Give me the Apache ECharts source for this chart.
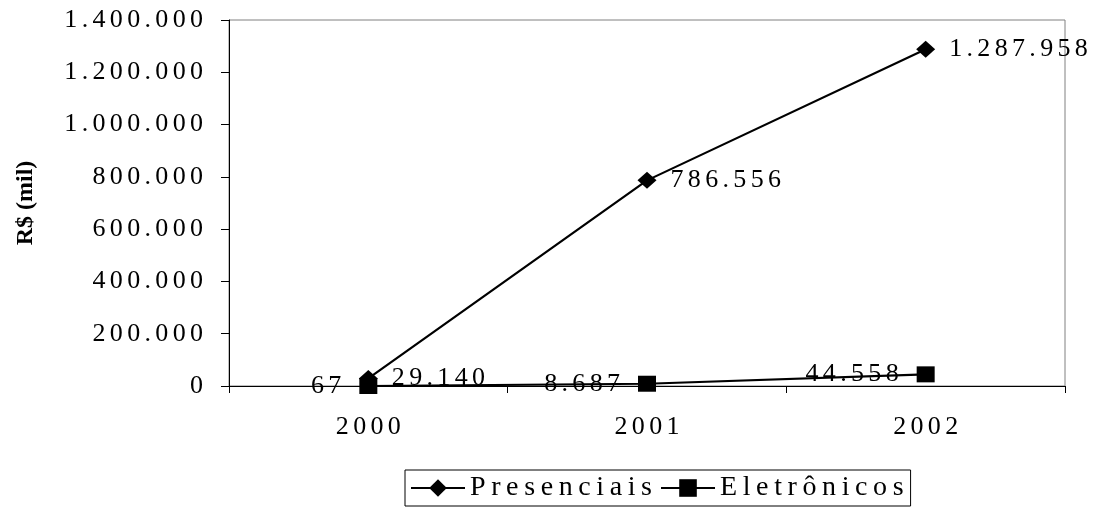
<!DOCTYPE html>
<html>
<head>
<meta charset="utf-8">
<script src="https://cdn.jsdelivr.net/npm/echarts@6/dist/echarts.min.js"></script>
<style>
html,body{margin:0;padding:0;background:#fff;}
#chart{width:1095px;height:513px;}
</style>
</head>
<body>
<div id="chart"></div>
<script>
const categories = ['2000', '2001', '2002'];
const presenciais = [29140, 786556, 1287958];
const eletronicos = [67, 8687, 44558];
const seriesNames = ['Presenciais', 'Eletrônicos'];
const yAxisName = 'R$ (mil)';
const yMin = 0, yMax = 1400000, yStep = 200000;

const FONT = '"Liberation Serif", "Times New Roman", serif';
const SP = '\u2006';
const SP_TEXT = '\u2009';
function thousands(n) {
  return String(n).replace(/\B(?=(\d{3})+(?!\d))/g, '.');
}
function spaced(s, sp) {
  return String(s).split('').join(sp || SP);
}

const chart = echarts.init(document.getElementById('chart'), null, {renderer: 'canvas'});
chart.setOption({
  backgroundColor: '#ffffff',
  animation: false,
  grid: {
    left: 229, right: 30, top: 20, bottom: 127,
    show: true, borderColor: '#808080', borderWidth: 1, backgroundColor: 'transparent'
  },
  legend: {
    left: 405, top: 470,
    padding: [4, 7, 4, 5],
    borderColor: '#000', borderWidth: 1,
    itemWidth: 54, itemHeight: 22, itemGap: 8,
    lineStyle: {width: 2, color: '#000'},
    textStyle: {fontFamily: FONT, fontSize: 28, color: '#000'},
    formatter: name => spaced(name, SP_TEXT),
    data: seriesNames
  },
  xAxis: {
    type: 'category',
    data: categories,
    boundaryGap: true,
    axisLine: {lineStyle: {color: '#000', width: 1}},
    axisTick: {show: true, length: 7, alignWithLabel: false, lineStyle: {color: '#000'}},
    axisLabel: {margin: 28, fontFamily: FONT, fontSize: 26, color: '#000', formatter: v => spaced(v)},
    splitLine: {show: false}
  },
  yAxis: {
    type: 'value',
    min: yMin, max: yMax, interval: yStep,
    name: yAxisName,
    nameLocation: 'middle',
    nameGap: 191,
    nameRotate: 90,
    nameTextStyle: {fontFamily: FONT, fontSize: 24, fontWeight: 'bold', color: '#000'},
    axisLine: {show: true, lineStyle: {color: '#000', width: 1}},
    axisTick: {show: true, length: 8, lineStyle: {color: '#000'}},
    axisLabel: {margin: 26, fontFamily: FONT, fontSize: 26, color: '#000', formatter: v => spaced(thousands(v))},
    splitLine: {show: false}
  },
  series: [
    {
      name: seriesNames[0],
      type: 'line',
      data: presenciais,
      symbol: 'diamond',
      symbolSize: [19, 17],
      itemStyle: {color: '#000'},
      lineStyle: {color: '#000', width: 2.2},
      label: {
        show: true, position: 'right', distance: 14,
        fontFamily: FONT, fontSize: 26, color: '#000',
        formatter: p => spaced(thousands(p.value))
      }
    },
    {
      name: seriesNames[1],
      type: 'line',
      data: eletronicos,
      symbol: 'rect',
      symbolSize: [18, 16],
      itemStyle: {color: '#000'},
      lineStyle: {color: '#000', width: 2.2},
      label: {
        show: true, position: 'left', distance: 18,
        fontFamily: FONT, fontSize: 26, color: '#000',
        formatter: p => spaced(thousands(p.value))
      }
    }
  ]
});
</script>
</body>
</html>
